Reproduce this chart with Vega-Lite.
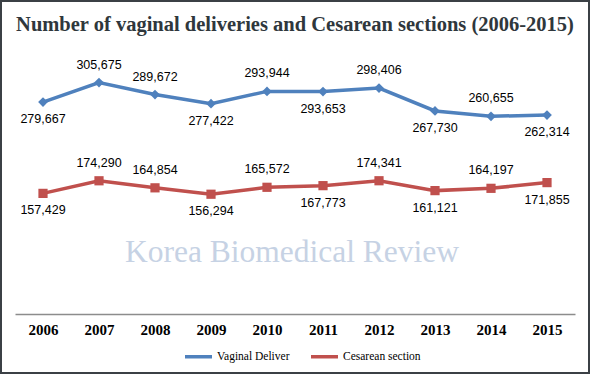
{
  "$schema": "https://vega.github.io/schema/vega-lite/v6.json",
  "width": 588,
  "height": 372,
  "padding": 1,
  "autosize": "none",
  "background": "white",
  "config": {
    "view": {"stroke": "#3b4045", "strokeWidth": 2},
    "font": "Liberation Sans"
  },
  "title": {
    "text": "Number of vaginal deliveries and Cesarean sections (2006-2015)",
    "font": "Liberation Serif",
    "fontWeight": "bold",
    "fontSize": 20.5,
    "color": "#2f373c",
    "anchor": "middle",
    "frame": "group",
    "orient": "top",
    "baseline": "middle",
    "offset": 0,
    "dy": 44
  },
  "datasets": {
    "births": [
      {"year": "2006", "series": "Vaginal Deliver", "value": 279667},
      {"year": "2007", "series": "Vaginal Deliver", "value": 305675},
      {"year": "2008", "series": "Vaginal Deliver", "value": 289672},
      {"year": "2009", "series": "Vaginal Deliver", "value": 277422},
      {"year": "2010", "series": "Vaginal Deliver", "value": 293944},
      {"year": "2011", "series": "Vaginal Deliver", "value": 293653},
      {"year": "2012", "series": "Vaginal Deliver", "value": 298406},
      {"year": "2013", "series": "Vaginal Deliver", "value": 267730},
      {"year": "2014", "series": "Vaginal Deliver", "value": 260655},
      {"year": "2015", "series": "Vaginal Deliver", "value": 262314},
      {"year": "2006", "series": "Cesarean section", "value": 157429},
      {"year": "2007", "series": "Cesarean section", "value": 174290},
      {"year": "2008", "series": "Cesarean section", "value": 164854},
      {"year": "2009", "series": "Cesarean section", "value": 156294},
      {"year": "2010", "series": "Cesarean section", "value": 165572},
      {"year": "2011", "series": "Cesarean section", "value": 167773},
      {"year": "2012", "series": "Cesarean section", "value": 174341},
      {"year": "2013", "series": "Cesarean section", "value": 161121},
      {"year": "2014", "series": "Cesarean section", "value": 164197},
      {"year": "2015", "series": "Cesarean section", "value": 171855}
    ],
    "watermark": [{"label": "Korea Biomedical Review"}]
  },
  "layer": [
    {
      "data": {"name": "watermark"},
      "mark": {
        "type": "text",
        "font": "Liberation Serif",
        "fontSize": 31.5,
        "color": "#c6d2e4",
        "baseline": "middle",
        "align": "center"
      },
      "encoding": {
        "x": {"value": {"expr": "width/2 - 3"}},
        "y": {"datum": 77000, "type": "quantitative", "scale": {"domain": [0, 350000], "range": [310, 48.5], "nice": false, "zero": false}, "axis": null},
        "text": {"field": "label"}
      }
    },
    {
      "data": {"name": "births"},
      "encoding": {
        "x": {
          "field": "year",
          "type": "ordinal",
          "scale": {"type": "point", "padding": 0.5, "range": [14, 574]},
          "axis": {
            "title": null,
            "offset": -59,
            "ticks": false,
            "domainColor": "#8c8c8c",
            "domainWidth": 1.5,
            "labelFont": "Liberation Serif",
            "labelFontWeight": "bold",
            "labelFontSize": 15,
            "labelColor": "#000000",
            "labelPadding": 8,
            "labelAngle": 0
          }
        },
        "y": {
          "field": "value",
          "type": "quantitative",
          "scale": {"domain": [0, 350000], "range": [310, 48.5], "nice": false, "zero": false},
          "axis": null
        }
      },
      "layer": [
        {
          "mark": {"type": "line", "strokeWidth": 3.5},
          "encoding": {
            "color": {
              "field": "series",
              "type": "nominal",
              "scale": {"domain": ["Vaginal Deliver", "Cesarean section"], "range": ["#4f81bd", "#c0504d"]},
              "legend": {
                "title": null,
                "orient": "none",
                "legendX": 182,
                "legendY": 340,
                "direction": "horizontal",
                "symbolType": "stroke",
                "symbolStrokeWidth": 3.5,
                "symbolSize": 729,
                "labelFont": "Liberation Serif",
                "labelFontSize": 11.5,
                "labelColor": "#000000",
                "labelOffset": 3,
                "columnPadding": 14
              }
            }
          }
        },
        {
          "transform": [{"filter": "datum.series == 'Vaginal Deliver'"}],
          "mark": {"type": "point", "filled": true, "opacity": 1, "size": 95, "shape": "diamond", "color": "#4f81bd"}
        },
        {
          "transform": [{"filter": "datum.series == 'Cesarean section'"}],
          "mark": {"type": "point", "filled": true, "opacity": 1, "size": 85, "shape": "square", "color": "#c0504d"}
        },
        {
          "transform": [{"filter": "indexof(['2007','2008','2010','2012','2014'], datum.year) >= 0"}],
          "mark": {"type": "text", "fontSize": 12.5, "color": "#000000", "dy": -18, "baseline": "middle"},
          "encoding": {"text": {"field": "value", "type": "quantitative", "format": ","}}
        },
        {
          "transform": [{"filter": "indexof(['2007','2008','2010','2012','2014'], datum.year) < 0"}],
          "mark": {"type": "text", "fontSize": 12.5, "color": "#000000", "dy": 17, "baseline": "middle"},
          "encoding": {"text": {"field": "value", "type": "quantitative", "format": ","}}
        }
      ]
    }
  ]
}
